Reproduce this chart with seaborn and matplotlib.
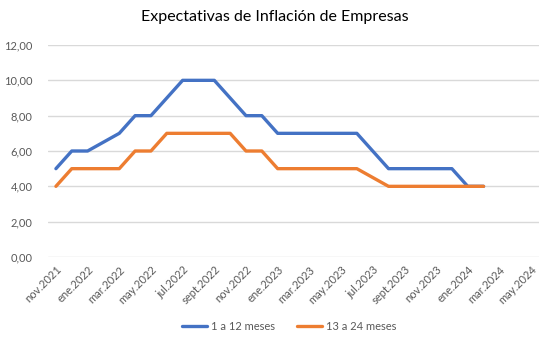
import numpy as np
import pandas as pd
import matplotlib
matplotlib.use("Agg")
import matplotlib.pyplot as plt
import seaborn as sns
from matplotlib.ticker import FuncFormatter

# Monthly observations, nov.2021 .. feb.2024
months = ["nov.2021", "dic.2021", "ene.2022", "feb.2022", "mar.2022", "abr.2022",
          "may.2022", "jun.2022", "jul.2022", "ago.2022", "sept.2022", "oct.2022",
          "nov.2022", "dic.2022", "ene.2023", "feb.2023", "mar.2023", "abr.2023",
          "may.2023", "jun.2023", "jul.2023", "ago.2023", "sept.2023", "oct.2023",
          "nov.2023", "dic.2023", "ene.2024", "feb.2024"]
short_term = [5, 6, 6, 6.5, 7, 8, 8, 9, 10, 10, 10, 9, 8, 8, 7, 7, 7, 7, 7, 7,
              6, 5, 5, 5, 5, 5, 4, 4]
long_term = [4, 5, 5, 5, 5, 6, 6, 7, 7, 7, 7, 7, 6, 6, 5, 5, 5, 5, 5, 5,
             4.5, 4, 4, 4, 4, 4, 4, 4]
series_names = ["1 a 12 meses", "13 a 24 meses"]

# Axis labels every two months, nov.2021 .. may.2024
tick_labels = ["nov.2021", "ene.2022", "mar.2022", "may.2022", "jul.2022", "sept.2022",
               "nov.2022", "ene.2023", "mar.2023", "may.2023", "jul.2023", "sept.2023",
               "nov.2023", "ene.2024", "mar.2024", "may.2024"]

df = pd.DataFrame({
    "mes": list(range(len(months))) * 2,
    "valor": short_term + long_term,
    "serie": [series_names[0]] * len(months) + [series_names[1]] * len(months),
})

sns.set_theme(style="white")
plt.rcParams["font.family"] = ["Lato", "DejaVu Sans"]
text_col = "#595959"

fig = plt.figure(figsize=(5.49, 3.37), dpi=100)
ax = fig.add_axes([48 / 549, 1 - 257 / 337, (539 - 48) / 549, (257 - 45) / 337])

sns.lineplot(data=df, x="mes", y="valor", hue="serie",
             palette=["#4472C4", "#ED7D31"], linewidth=2.4, ax=ax,
             legend=True)

ax.set_xlim(-0.5, 30.5)
ax.set_ylim(0, 12)
ax.set_yticks(np.arange(0, 13, 2))
ax.yaxis.set_major_formatter(FuncFormatter(lambda v, p: f"{v:.2f}".replace(".", ",")))
ax.grid(axis="y", color="#D9D9D9", linewidth=1)
ax.set_axisbelow(True)
for s in ax.spines.values():
    s.set_visible(False)

ax.set_xticks(np.arange(0, 31, 2))
ax.set_xticklabels(tick_labels, rotation=45, ha="right", rotation_mode="anchor")
ax.tick_params(axis="both", length=0, labelsize=8, colors=text_col)
ax.tick_params(axis="y", pad=11)
ax.tick_params(axis="x", pad=5)
ax.set_xlabel("")
ax.set_ylabel("")

ax.legend(loc="center", bbox_to_anchor=(289 / 549, 1 - 326 / 337),
          bbox_transform=fig.transFigure, ncol=2, frameon=False,
          fontsize=8, handlelength=2.3, handletextpad=0.3, columnspacing=2.0,
          labelcolor=text_col)

fig.text(0.5, 1 - 17 / 337, "Expectativas de Inflación de Empresas",
         ha="center", va="center", fontsize=11.5, color="#000000")

fig.savefig("out.png", dpi=100)
